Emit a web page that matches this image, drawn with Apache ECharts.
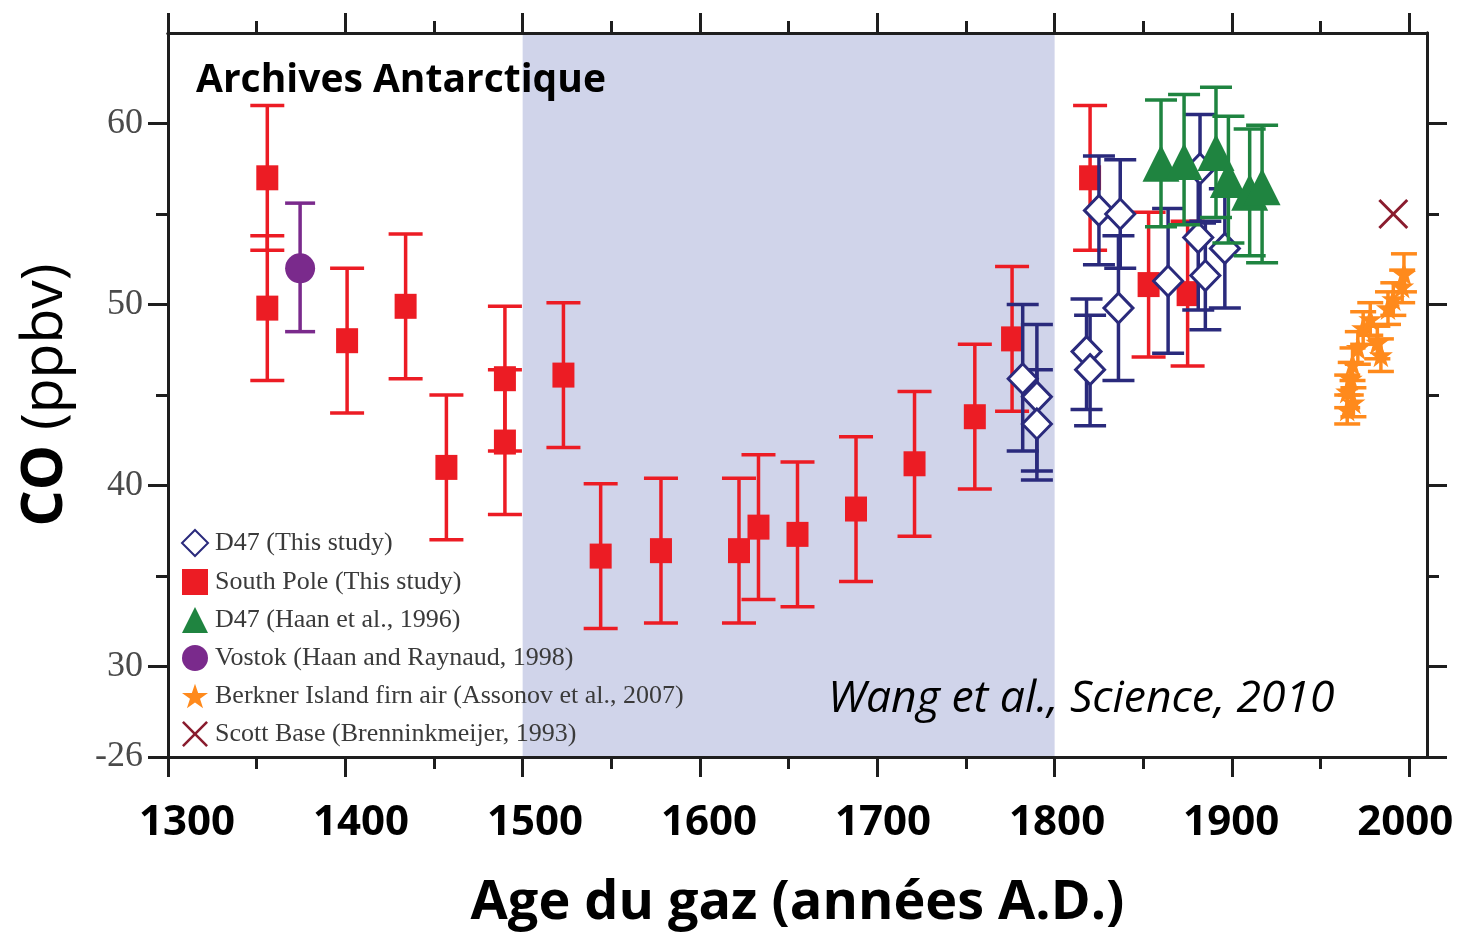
<!DOCTYPE html>
<html>
<head>
<meta charset="utf-8">
<script src="https://cdn.jsdelivr.net/npm/echarts@6/dist/echarts.min.js"></script>
<style>
  html, body { margin: 0; padding: 0; background: #ffffff; }
  #chart { width: 1464px; height: 932px; }
</style>
</head>
<body>
<div id="chart"></div>
<script>
// CO concentration in Antarctic ice cores and firn air, 1300–2010 A.D.
// Each record: [year A.D., CO (ppbv), error-bar low, error-bar high]

const southPole = [
  [1356, 57.0, 53.0, 61.0],
  [1356, 49.8, 45.8, 53.8],
  [1401, 48.0, 44.0, 52.0],
  [1434, 49.9, 45.9, 53.9],
  [1457, 41.0, 37.0, 45.0],
  [1490, 45.9, 41.9, 49.9],
  [1490, 42.4, 38.4, 46.4],
  [1523, 46.1, 42.1, 50.1],
  [1544, 36.1, 32.1, 40.1],
  [1578, 36.4, 32.4, 40.4],
  [1622, 36.4, 32.4, 40.4],
  [1633, 37.7, 33.7, 41.7],
  [1655, 37.3, 33.3, 41.3],
  [1688, 38.7, 34.7, 42.7],
  [1721, 41.2, 37.2, 45.2],
  [1755, 43.8, 39.8, 47.8],
  [1776, 48.1, 44.1, 52.1],
  [1820, 57.0, 53.0, 61.0],
  [1853, 51.1, 47.1, 55.1],
  [1875, 50.6, 46.6, 54.6]
];

const d47ThisStudy = [
  [1782, 45.9, 41.9, 50.0],
  [1790, 44.9, 40.8, 48.9],
  [1790, 43.4, 40.3, 46.4],
  [1818, 47.4, 44.2, 50.3],
  [1820, 46.4, 43.3, 49.4],
  [1825, 55.2, 52.2, 58.2],
  [1837, 55.0, 52.0, 58.0],
  [1836, 49.8, 45.8, 53.8],
  [1864, 51.3, 47.3, 55.3],
  [1881, 53.7, 49.7, 57.7],
  [1885, 51.6, 48.6, 54.6],
  [1896, 53.1, 49.8, 56.4],
  [1882, 57.5, 54.5, 60.5]
];

const d47Haan = [
  [1860, 57.8, 54.3, 61.3],
  [1873, 57.9, 54.4, 61.6],
  [1891, 58.4, 54.8, 62.0],
  [1898, 56.9, 53.4, 60.4],
  [1910, 56.2, 52.7, 59.7],
  [1917, 56.5, 52.3, 59.9]
];

const vostok = [
  [1374.5, 52.0, 48.5, 55.6]
];

const berkner = [
  [1965, 44.2, 43.4, 45.0],
  [1968.5, 44.6, 43.8, 45.4],
  [1965, 45.2, 44.3, 46.1],
  [1967, 45.9, 45.0, 46.8],
  [1968, 46.7, 45.8, 47.6],
  [1971, 47.6, 46.7, 48.5],
  [1984, 47.2, 46.3, 48.1],
  [1982, 47.9, 47.0, 48.8],
  [1974, 48.7, 47.8, 49.6],
  [1978, 49.2, 48.3, 50.1],
  [1988, 49.8, 48.9, 50.7],
  [1991, 50.3, 49.4, 51.2],
  [1996, 51.0, 50.1, 51.9],
  [1997, 51.7, 50.7, 52.8]
];

const scottBase = [
  [1991, 55.0]
];

// Shaded period (Little Ice Age window)
const shadedPeriod = [[1500, 1800]];

// Axis ticks and labels
const xMajorTicks = [1300, 1400, 1500, 1600, 1700, 1800, 1900, 2000];
const xMinorTicks = [1350, 1450, 1550, 1650, 1750, 1850, 1950];
const yLabelValues = [25, 30, 40, 50, 60];
const yLabelTexts = ['-26', '30', '40', '50', '60'];
const yMajorTicks = [25, 30, 40, 50, 60];
const yMinorTicks = [35, 45, 55];

const names = [
  'D47 (This study)',
  'South Pole (This study)',
  'D47 (Haan et al., 1996)',
  'Vostok (Haan and Raynaud, 1998)',
  'Berkner Island firn air (Assonov et al., 2007)',
  'Scott Base (Brenninkmeijer, 1993)'
];

const COLORS = {
  red: '#ec1c24',
  navy: '#2a2a7c',
  green: '#1f8440',
  purple: '#7a2a8c',
  orange: '#ff8a1c',
  maroon: '#8a1c2e',
  shade: '#d0d4ea',
  axis: '#1e1e1e'
};

const X_MIN = 1300, X_MAX = 2010, Y_MIN = 25, Y_MAX = 65;

const STAR = 'path://M50,0 L61.8,35.3 L99,35.3 L68.9,57.1 L80.4,92.6 L50,70.6 L19.6,92.6 L31.1,57.1 L1,35.3 L38.2,35.3 Z';
const CROSS = 'path://M0,7 L7,0 L50,43 L93,0 L100,7 L57,50 L100,93 L93,100 L50,57 L7,100 L0,93 L43,50 Z';

// Year labels sit on a slightly tighter pitch than the ticks:
// each one is nudged right by an amount that shrinks along the axis.
const yearLabelRich = {};
xMajorTicks.forEach((v, i) => {
  const shift = 19 - 3.3 * i;
  yearLabelRich['y' + i] = {
    fontFamily: 'Open Sans', fontWeight: 'bold', fontSize: 42, color: '#000',
    padding: shift >= 0 ? [0, 0, 0, 2 * shift] : [0, -2 * shift, 0, 0]
  };
});

function errorBars(name, data, color, capHalf, z) {
  return {
    type: 'custom',
    name: name + ' error',
    xAxisIndex: 0,
    yAxisIndex: 0,
    z: z,
    silent: true,
    clip: false,
    data: data.map(d => [d[0], d[2], d[3]]),
    encode: { x: 0, y: [1, 2] },
    renderItem(params, api) {
      const x = api.value(0);
      const lo = api.coord([x, api.value(1)]);
      const hi = api.coord([x, api.value(2)]);
      const style = { stroke: color, lineWidth: 3.5 };
      return {
        type: 'group',
        children: [
          { type: 'line', shape: { x1: lo[0], y1: lo[1], x2: hi[0], y2: hi[1] }, style },
          { type: 'line', shape: { x1: lo[0] - capHalf, y1: lo[1], x2: lo[0] + capHalf, y2: lo[1] }, style },
          { type: 'line', shape: { x1: hi[0] - capHalf, y1: hi[1], x2: hi[0] + capHalf, y2: hi[1] }, style }
        ]
      };
    }
  };
}

function xAxisDef(position, ticks, length, withLabels) {
  return {
    type: 'value', position, min: X_MIN, max: X_MAX, interval: 50, z: 10,
    axisLine: { show: true, onZero: false, lineStyle: { color: COLORS.axis, width: 3 } },
    axisTick: { show: true, inside: false, length, customValues: ticks, lineStyle: { color: COLORS.axis, width: 3 } },
    axisLabel: withLabels ? {
      show: true, customValues: xMajorTicks, margin: 45,
      formatter: v => '{y' + xMajorTicks.indexOf(v) + '|' + v + '}',
      rich: yearLabelRich,
      fontFamily: 'Open Sans', fontWeight: 'bold', fontSize: 42, color: '#000'
    } : { show: false },
    splitLine: { show: false }
  };
}

function yAxisDef(position, ticks, length, withLabels) {
  return {
    type: 'value', position, min: Y_MIN, max: Y_MAX, interval: 5, z: 10,
    axisLine: { show: true, onZero: false, lineStyle: { color: COLORS.axis, width: 3 } },
    axisTick: { show: true, inside: false, length, customValues: ticks, lineStyle: { color: COLORS.axis, width: 3 } },
    axisLabel: withLabels ? {
      show: true, customValues: yLabelValues, margin: 25,
      formatter: v => yLabelTexts[yLabelValues.indexOf(v)] ?? String(v),
      fontFamily: 'Liberation Serif', fontSize: 36, color: '#4a4a4a'
    } : { show: false },
    splitLine: { show: false }
  };
}

const xAxes = [
  Object.assign(xAxisDef('bottom', xMajorTicks, 20, true), {
    name: 'Age du gaz (années A.D.)', nameLocation: 'middle', nameGap: 120,
    nameTextStyle: { fontFamily: 'Open Sans', fontWeight: 'bold', fontSize: 54, color: '#000' }
  }),
  xAxisDef('bottom', xMinorTicks, 12, false),
  xAxisDef('top', xMajorTicks, 20, false),
  xAxisDef('top', xMinorTicks, 12, false)
];

const yAxes = [
  Object.assign(yAxisDef('left', yMajorTicks, 20, true), {
    name: '{b|CO}{n| (ppbv)}', nameLocation: 'middle', nameRotate: 90, nameGap: 94,
    nameTextStyle: {
      rich: {
        b: { fontFamily: 'Open Sans', fontWeight: 'bold', fontSize: 57, color: '#000' },
        n: { fontFamily: 'Open Sans', fontWeight: 'normal', fontSize: 57, color: '#000' }
      }
    }
  }),
  yAxisDef('left', yMinorTicks, 12, false),
  yAxisDef('right', yMajorTicks, 20, false),
  yAxisDef('right', yMinorTicks, 12, false)
];

const option = {
  animation: false,
  backgroundColor: '#ffffff',
  grid: { left: 168, right: 37, top: 33, bottom: 175, containLabel: false, outerBoundsMode: 'none' },
  xAxis: xAxes,
  yAxis: yAxes,
  legend: {
    orient: 'vertical',
    left: 176,
    top: 524,
    itemWidth: 26,
    itemHeight: 26,
    itemGap: 12,
    selectedMode: false,
    data: names,
    textStyle: { fontFamily: 'Liberation Serif', fontSize: 26, color: '#3a3a3a', padding: [0, 0, 0, 2] }
  },
  graphic: [
    {
      type: 'text', left: 196, top: 61, z: 100,
      style: { text: 'Archives Antarctique', font: 'bold 39px "Open Sans"', fill: '#000' }
    },
    {
      type: 'text', left: 828, top: 677, z: 100,
      style: { text: 'Wang et al., Science, 2010', font: 'italic 44.5px "Open Sans"', fill: '#000' }
    }
  ],
  series: [
    {
      type: 'custom', name: 'shaded period', z: 1, silent: true,
      xAxisIndex: 0, yAxisIndex: 0,
      data: shadedPeriod,
      encode: { x: [0, 1] },
      renderItem(params, api) {
        const a = api.coord([api.value(0), Y_MIN]);
        const b = api.coord([api.value(1), Y_MAX]);
        return {
          type: 'rect',
          shape: { x: a[0], y: b[1], width: b[0] - a[0], height: a[1] - b[1] },
          style: { fill: COLORS.shade }
        };
      }
    },
    errorBars('South Pole', southPole, COLORS.red, 17, 2),
    {
      type: 'scatter', name: names[1], z: 3,
      symbol: 'rect', symbolSize: [22, 25],
      itemStyle: { color: COLORS.red, opacity: 1 },
      data: southPole.map(d => [d[0], d[1]])
    },
    errorBars('D47 this study', d47ThisStudy, COLORS.navy, 16, 4),
    {
      type: 'scatter', name: names[0], z: 5,
      symbol: 'diamond', symbolSize: [29, 30],
      itemStyle: { color: '#ffffff', borderColor: COLORS.navy, borderWidth: 3, opacity: 1 },
      data: d47ThisStudy.map(d => [d[0], d[1]])
    },
    errorBars('D47 Haan', d47Haan, COLORS.green, 16, 6),
    {
      type: 'scatter', name: names[2], z: 7,
      symbol: 'triangle', symbolSize: [37, 37],
      itemStyle: { color: COLORS.green, opacity: 1 },
      data: d47Haan.map(d => [d[0], d[1]])
    },
    errorBars('Vostok', vostok, COLORS.purple, 15, 6),
    {
      type: 'scatter', name: names[3], z: 7,
      symbol: 'circle', symbolSize: 30,
      itemStyle: { color: COLORS.purple, opacity: 1 },
      data: vostok.map(d => [d[0], d[1]])
    },
    errorBars('Berkner', berkner, COLORS.orange, 13, 6),
    {
      type: 'scatter', name: names[4], z: 7,
      symbol: STAR, symbolSize: 24,
      itemStyle: { color: COLORS.orange, opacity: 1 },
      data: berkner.map(d => [d[0], d[1]])
    },
    {
      type: 'scatter', name: names[5], z: 7,
      symbol: CROSS, symbolSize: 30,
      itemStyle: { color: COLORS.maroon, opacity: 1 },
      data: scottBase
    }
  ]
};

const chart = echarts.init(document.getElementById('chart'), null, { renderer: 'canvas' });
chart.setOption(option);
</script>
</body>
</html>
